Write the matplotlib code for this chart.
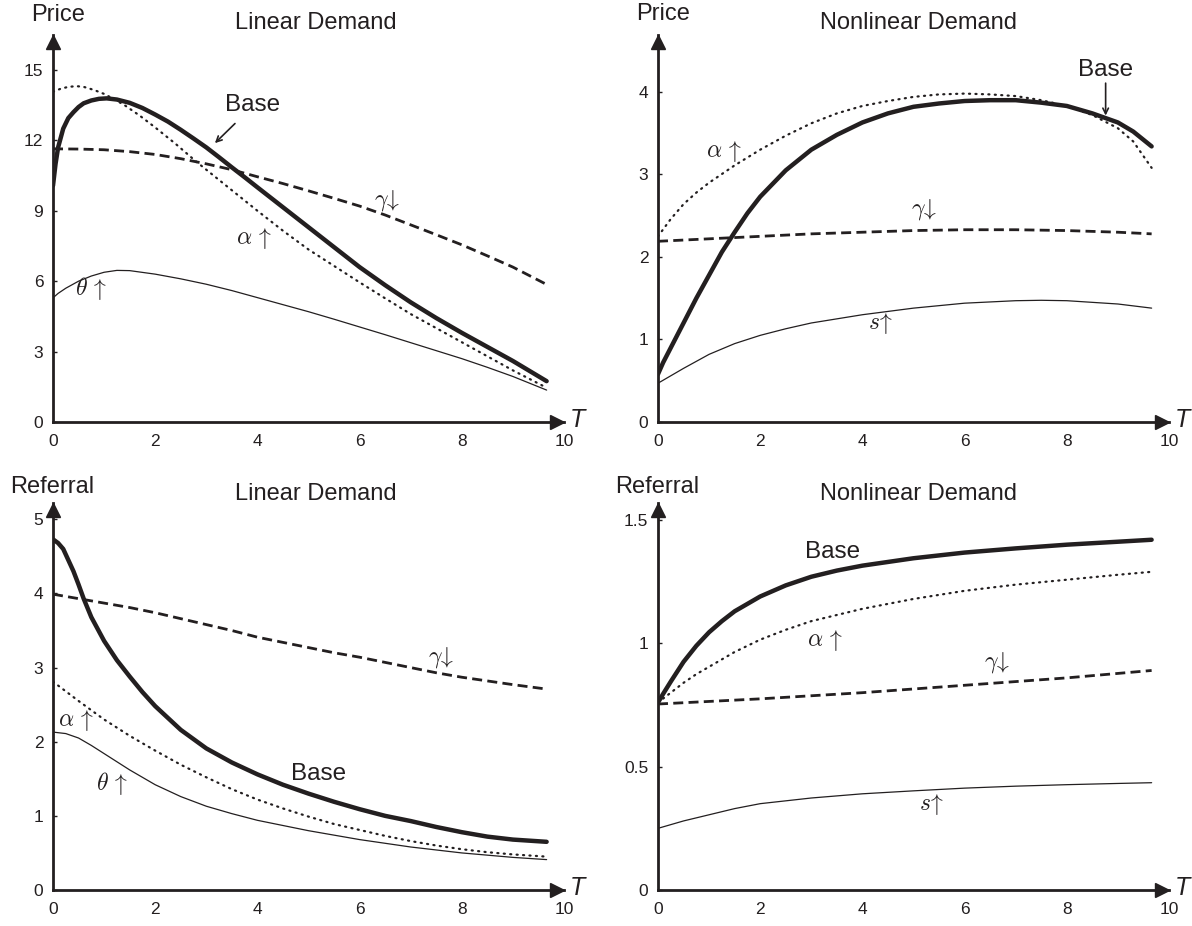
import numpy as np
import matplotlib
matplotlib.use("Agg")
import matplotlib.pyplot as plt

plt.rcParams['font.family'] = ['Liberation Sans', 'DejaVu Sans']
plt.rcParams['mathtext.fontset'] = 'cm'

INK = '#231f20'

# ---- top-left: Linear Demand, Price ----
tl_base_t = [0, 0.05, 0.1, 0.2, 0.3, 0.4, 0.5, 0.6, 0.75, 0.9, 1.05, 1.25, 1.5, 1.75, 2, 2.25, 2.5,
             2.75, 3, 3.25, 3.5, 3.75, 4, 4.5, 5, 5.5, 6, 6.5, 7, 7.5, 8, 8.5, 9, 9.66]
tl_base_v = [10.07, 11.0, 11.7, 12.5, 12.95, 13.2, 13.42, 13.58, 13.7, 13.77, 13.79, 13.74, 13.6, 13.38,
             13.1, 12.8, 12.45, 12.08, 11.7, 11.28, 10.85, 10.43, 10.0, 9.15, 8.3, 7.45, 6.6, 5.83,
             5.1, 4.43, 3.8, 3.2, 2.6, 1.74]
tl_alpha_t = [0, 0.15, 0.3, 0.46, 0.6, 0.8, 1.0, 1.2, 1.4, 1.7, 2, 2.4, 2.8, 3.2, 3.6, 4, 4.5, 5,
              5.5, 6, 6.5, 7, 7.5, 8, 8.5, 9, 9.66]
tl_alpha_v = [14.07, 14.2, 14.28, 14.31, 14.28, 14.15, 13.98, 13.75, 13.5, 13.05, 12.55, 11.85, 11.1,
              10.4, 9.7, 9.0, 8.15, 7.35, 6.65, 5.95, 5.27, 4.6, 4.0, 3.4, 2.8, 2.2, 1.46]
tl_gamma_t = [0, 0.5, 1, 1.5, 2, 2.5, 3, 3.5, 4, 4.5, 5, 5.5, 6, 6.5, 7, 7.5, 8, 8.5, 9, 9.66]
tl_gamma_v = [11.64, 11.63, 11.6, 11.52, 11.4, 11.22, 11.0, 10.75, 10.45, 10.16, 9.85, 9.53, 9.2,
              8.82, 8.4, 7.98, 7.55, 7.08, 6.6, 5.86]
tl_theta_t = [0, 0.1, 0.25, 0.5, 0.75, 1, 1.25, 1.5, 2, 2.5, 3, 3.5, 4, 4.5, 5, 5.5, 6, 6.5, 7,
              7.5, 8, 8.5, 9, 9.66]
tl_theta_v = [5.29, 5.48, 5.7, 6.0, 6.22, 6.38, 6.46, 6.45, 6.3, 6.1, 5.87, 5.6, 5.3, 5.0, 4.7,
              4.38, 4.05, 3.72, 3.38, 3.04, 2.7, 2.33, 1.94, 1.36]

# ---- top-right: Nonlinear Demand, Price ----
tr_base_t = [0, 0.1, 0.25, 0.5, 0.75, 1, 1.25, 1.5, 1.75, 2, 2.5, 3, 3.5, 4, 4.5, 5, 5.5, 6, 6.5,
             7, 7.5, 8, 8.5, 9, 9.3, 9.66]
tr_base_v = [0.58, 0.72, 0.9, 1.2, 1.5, 1.78, 2.06, 2.3, 2.53, 2.73, 3.05, 3.3, 3.48, 3.63, 3.74,
             3.82, 3.86, 3.89, 3.9, 3.9, 3.87, 3.83, 3.74, 3.63, 3.52, 3.34]
tr_alpha_t = [0, 0.25, 0.5, 0.75, 1, 1.5, 2, 2.5, 3, 3.5, 4, 4.5, 5, 5.5, 6, 6.5, 7, 7.5, 8, 8.5,
              9, 9.3, 9.66]
tr_alpha_v = [2.25, 2.46, 2.64, 2.78, 2.9, 3.11, 3.3, 3.47, 3.62, 3.74, 3.83, 3.89, 3.94, 3.97,
              3.98, 3.97, 3.95, 3.9, 3.83, 3.72, 3.56, 3.4, 3.08]
tr_gamma_t = [0, 1, 2, 3, 4, 5, 6, 7, 8, 9, 9.66]
tr_gamma_v = [2.19, 2.22, 2.25, 2.28, 2.3, 2.32, 2.33, 2.33, 2.32, 2.3, 2.28]
tr_s_t = [0, 0.25, 0.5, 1, 1.5, 2, 2.5, 3, 4, 5, 6, 7, 7.5, 8, 9, 9.66]
tr_s_v = [0.47, 0.56, 0.65, 0.82, 0.95, 1.05, 1.13, 1.2, 1.3, 1.38, 1.44, 1.47, 1.475, 1.47, 1.43, 1.38]

# ---- bottom-left: Linear Demand, Referral ----
bl_base_t = [0, 0.1, 0.2, 0.3, 0.4, 0.5, 0.6, 0.75, 1, 1.25, 1.5, 1.75, 2, 2.5, 3, 3.5, 4, 4.5,
             5, 5.5, 6, 6.5, 7, 7.5, 8, 8.5, 9, 9.66]
bl_base_v = [4.73, 4.68, 4.6, 4.45, 4.3, 4.12, 3.93, 3.68, 3.36, 3.1, 2.88, 2.67, 2.48, 2.16, 1.91,
             1.72, 1.56, 1.42, 1.3, 1.19, 1.09, 1.0, 0.93, 0.85, 0.78, 0.72, 0.68, 0.65]
bl_alpha_t = [0, 0.25, 0.5, 1, 1.5, 2, 2.5, 3, 3.5, 4, 4.5, 5, 5.5, 6, 6.5, 7, 7.5, 8, 8.5, 9, 9.66]
bl_alpha_v = [2.81, 2.68, 2.55, 2.3, 2.08, 1.88, 1.69, 1.52, 1.36, 1.22, 1.1, 0.99, 0.89, 0.81,
              0.73, 0.66, 0.6, 0.55, 0.51, 0.48, 0.45]
bl_gamma_t = [0, 0.5, 1, 1.5, 2, 2.5, 3, 3.5, 4, 4.5, 5, 5.5, 6, 6.5, 7, 7.5, 8, 8.5, 9, 9.66]
bl_gamma_v = [3.99, 3.93, 3.87, 3.81, 3.74, 3.66, 3.58, 3.5, 3.41, 3.34, 3.27, 3.2, 3.14, 3.07,
              3.0, 2.93, 2.87, 2.82, 2.77, 2.71]
bl_theta_t = [0, 0.25, 0.5, 0.75, 1, 1.5, 2, 2.5, 3, 3.5, 4, 4.5, 5, 5.5, 6, 6.5, 7, 7.5, 8, 8.5,
              9, 9.66]
bl_theta_v = [2.13, 2.11, 2.05, 1.95, 1.84, 1.62, 1.42, 1.26, 1.13, 1.03, 0.94, 0.87, 0.8, 0.74,
              0.68, 0.63, 0.58, 0.54, 0.5, 0.47, 0.44, 0.41]

# ---- bottom-right: Nonlinear Demand, Referral ----
br_base_t = [0, 0.1, 0.25, 0.5, 0.75, 1, 1.25, 1.5, 2, 2.5, 3, 3.5, 4, 5, 6, 7, 8, 9, 9.66]
br_base_v = [0.76, 0.795, 0.845, 0.925, 0.99, 1.045, 1.09, 1.13, 1.19, 1.235, 1.27, 1.295, 1.315,
             1.345, 1.368, 1.385, 1.4, 1.412, 1.42]
br_alpha_t = [0, 0.25, 0.5, 0.75, 1, 1.5, 2, 2.5, 3, 3.5, 4, 5, 6, 7, 8, 9, 9.66]
br_alpha_v = [0.76, 0.8, 0.84, 0.875, 0.905, 0.965, 1.015, 1.055, 1.09, 1.115, 1.14, 1.18, 1.213,
              1.238, 1.258, 1.278, 1.29]
br_gamma_t = [0, 2, 4, 6, 8, 9.66]
br_gamma_v = [0.754, 0.775, 0.8, 0.83, 0.86, 0.89]
br_s_t = [0, 0.5, 1, 1.5, 2, 3, 4, 5, 6, 7, 8, 9, 9.66]
br_s_v = [0.25, 0.28, 0.305, 0.33, 0.35, 0.373, 0.39, 0.402, 0.413, 0.421, 0.427, 0.432, 0.435]

x_ticks = [0, 2, 4, 6, 8, 10]

fig = plt.figure(figsize=(11.92, 9.26), dpi=100)
W, H = 1192, 926


def make_ax(x0, y0, ymax, yticks, ylabels):
    # x0: pixel of y axis, y0: pixel of x axis
    ax = fig.add_axes([x0 / W, 1 - y0 / H, 511 / W, 387 / H])
    ax.set_xlim(0, 10)
    ax.set_ylim(0, ymax)
    for s in ['top', 'right']:
        ax.spines[s].set_visible(False)
    for s in ['left', 'bottom']:
        ax.spines[s].set_linewidth(2.0)
        ax.spines[s].set_color(INK)
    ax.set_xticks(x_ticks)
    ax.set_yticks(yticks)
    ax.set_yticklabels(ylabels)
    ax.tick_params(axis='x', length=0, pad=9, labelsize=12.5, colors=INK)
    ax.tick_params(axis='y', length=3, width=1, direction='in', pad=7, labelsize=12.5, colors=INK)
    ax.patch.set_visible(False)
    # arrow heads on axes
    ax.plot(0.987, 0, '>', color=INK, ms=10, transform=ax.transAxes, clip_on=False)
    ax.plot(0, 0.982, '^', color=INK, ms=10, transform=ax.transAxes, clip_on=False)
    ax.text(1.011, 0.005, 'T', transform=ax.transAxes, fontsize=18, style='italic',
            ha='left', va='center', color=INK)
    return ax


def draw(ax, base, alpha, gamma, thin):
    ax.plot(*thin, color=INK, lw=0.9, solid_capstyle='round')
    ax.plot(*gamma, color=INK, lw=2.0, linestyle=(0, (3.6, 1.9)))
    ax.plot(*alpha, color=INK, lw=1.6, linestyle=(0, (0.5, 2.4)), dash_capstyle='round')
    ax.plot(*base, color=INK, lw=3.2, solid_capstyle='round', solid_joinstyle='round')


lab = dict(fontsize=17.5, ha='center', va='center', color=INK)
gk = dict(fontsize=17, ha='center', va='center', color=INK)

# top-left
ax1 = make_ax(53, 422, 16.49, [0, 3, 6, 9, 12, 15], ['0', '3', '6', '9', '12', '15'])
draw(ax1, (tl_base_t, tl_base_v), (tl_alpha_t, tl_alpha_v), (tl_gamma_t, tl_gamma_v), (tl_theta_t, tl_theta_v))
ax1.annotate('', xy=(3.13, 11.8), xytext=(3.6, 12.8),
             arrowprops=dict(arrowstyle='->', color=INK, lw=1.2))
ax1.text(3.9, 13.5, 'Base', **lab)
ax1.text(6.54, 9.42, r'$\gamma\!\downarrow$', **gk)
ax1.text(3.93, 7.84, r'$\alpha\,\uparrow$', **gk)
ax1.text(0.74, 5.67, r'$\theta\,\uparrow$', **gk)

# top-right
ax2 = make_ax(658, 422, 4.69, [0, 1, 2, 3, 4], ['0', '1', '2', '3', '4'])
draw(ax2, (tr_base_t, tr_base_v), (tr_alpha_t, tr_alpha_v), (tr_gamma_t, tr_gamma_v), (tr_s_t, tr_s_v))
ax2.annotate('', xy=(8.76, 3.68), xytext=(8.76, 4.14),
             arrowprops=dict(arrowstyle='->', color=INK, lw=1.2))
ax2.text(8.75, 4.27, 'Base', **lab)
ax2.text(1.29, 3.28, r'$\alpha\,\uparrow$', **gk)
ax2.text(5.2, 2.58, r'$\gamma\!\downarrow$', **gk)
ax2.text(4.35, 1.19, r'$s\!\uparrow$', **gk)

# bottom-left
ax3 = make_ax(53, 890, 5.22, [0, 1, 2, 3, 4, 5], ['0', '1', '2', '3', '4', '5'])
draw(ax3, (bl_base_t, bl_base_v), (bl_alpha_t, bl_alpha_v), (bl_gamma_t, bl_gamma_v), (bl_theta_t, bl_theta_v))
ax3.text(5.19, 1.56, 'Base', **lab)
ax3.text(7.59, 3.14, r'$\gamma\!\downarrow$', **gk)
ax3.text(0.45, 2.29, r'$\alpha\,\uparrow$', **gk)
ax3.text(1.16, 1.43, r'$\theta\,\uparrow$', **gk)

# bottom-right
ax4 = make_ax(658, 890, 1.569, [0, 0.5, 1, 1.5], ['0', '0.5', '1', '1.5'])
draw(ax4, (br_base_t, br_base_v), (br_alpha_t, br_alpha_v), (br_gamma_t, br_gamma_v), (br_s_t, br_s_v))
ax4.text(3.41, 1.37, 'Base', **lab)
ax4.text(3.27, 1.013, r'$\alpha\,\uparrow$', **gk)
ax4.text(6.63, 0.924, r'$\gamma\!\downarrow$', **gk)
ax4.text(5.36, 0.345, r'$s\!\uparrow$', **gk)

# titles and axis names
tk = dict(fontsize=17, ha='center', va='center', color=INK)
fig.text(316 / W, 1 - 23 / H, 'Linear Demand', **tk)
fig.text(919 / W, 1 - 23 / H, 'Nonlinear Demand', **tk)
fig.text(316 / W, 1 - 494 / H, 'Linear Demand', **tk)
fig.text(919 / W, 1 - 494 / H, 'Nonlinear Demand', **tk)
fig.text(58 / W, 1 - 15 / H, 'Price', **tk)
fig.text(663 / W, 1 - 14 / H, 'Price', **tk)
fig.text(52 / W, 1 - 487 / H, 'Referral', **tk)
fig.text(657 / W, 1 - 487 / H, 'Referral', **tk)

fig.savefig('out.png', dpi=100, facecolor='white')
